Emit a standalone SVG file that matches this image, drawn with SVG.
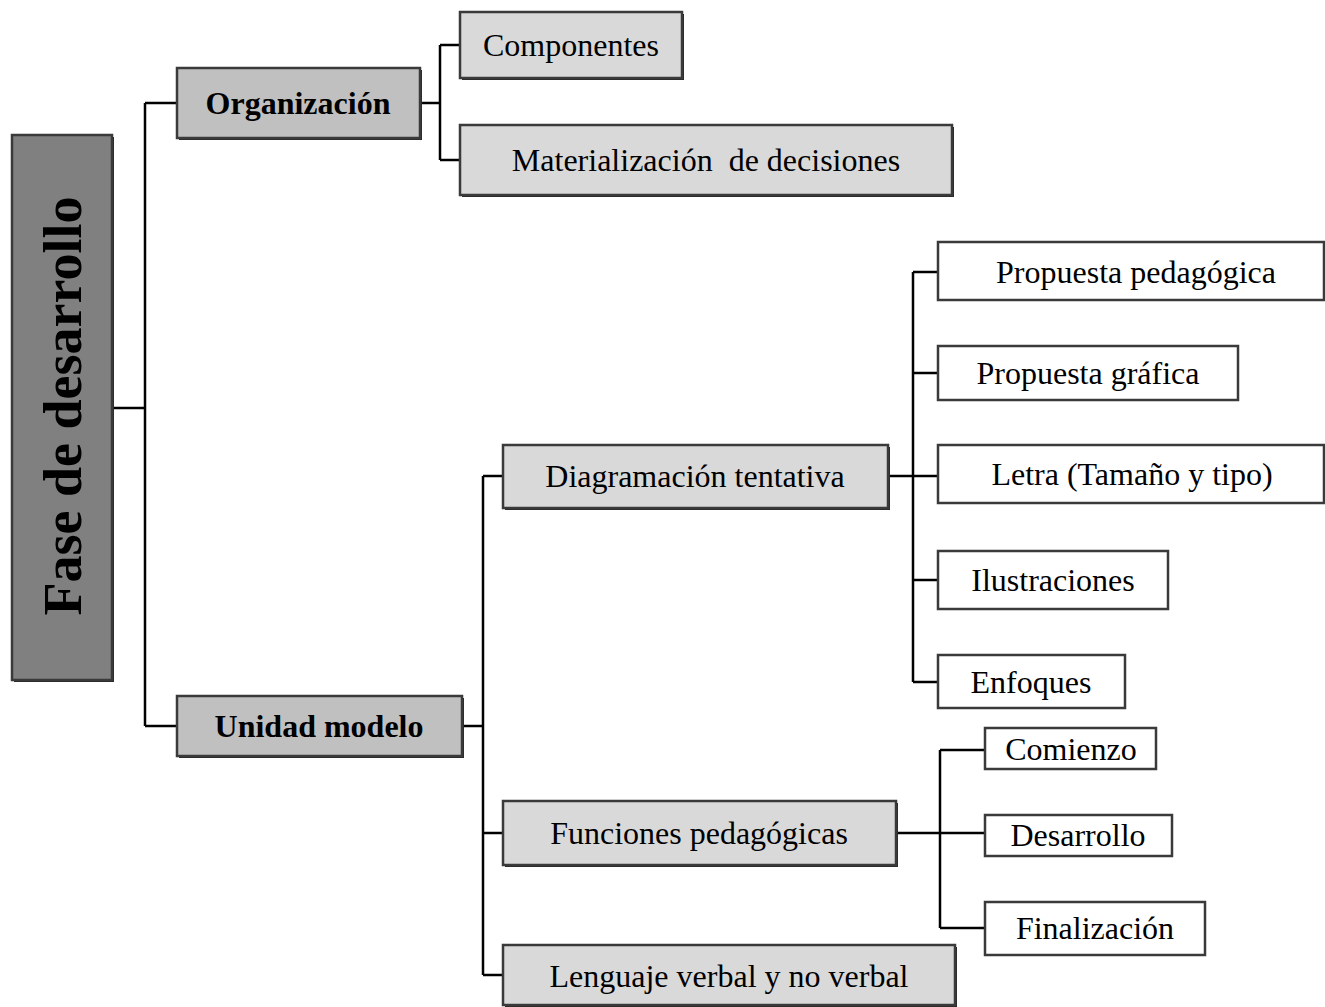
<svg xmlns="http://www.w3.org/2000/svg" width="1325" height="1007" viewBox="0 0 1325 1007">
<style>
.box{stroke:#3a3a3a;stroke-width:2.5}
.sh{fill:#2a2a2a}
.dark{fill:#808080}
.mid{fill:#c0c0c0}
.light{fill:#d9d9d9}
.white{fill:#ffffff}
text{font-family:"Liberation Serif","Times New Roman",serif;font-size:32px;fill:#000;text-anchor:middle}
.b{font-weight:bold}
.conn{fill:none;stroke:#000;stroke-width:2.5}
</style>
<rect width="1325" height="1007" fill="#fff"/>
<g id="connectors" class="conn">
<path d="M112 408H145M145 103V726M145 103H177M145 726H177"/>
<path d="M420 103H440M440 45V160M440 45H460M440 160H460"/>
<path d="M462 726H483M483 476V975M483 476H503M483 833H503M483 975H503"/>
<path d="M888 476H913M913 272V682M913 272H938M913 373H938M913 476H938M913 580H938M913 682H938"/>
<path d="M896 833H940M940 750V928M940 750H985M940 833H985M940 928H985"/>
</g>
<g id="fase">
<rect class="sh" x="14" y="137" width="100" height="545"/>
<rect class="box dark" x="12" y="135" width="100" height="545"/>
<text class="b" transform="translate(81 406) rotate(-90)" style="font-size:54px">Fase de desarrollo</text>
</g>
<g id="organizacion">
<rect class="sh" x="179" y="70" width="243" height="70"/>
<rect class="box mid" x="177" y="68" width="243" height="70"/>
<text class="b" x="298" y="114">Organización</text>
</g>
<g id="componentes">
<rect class="sh" x="462" y="14" width="222" height="66"/>
<rect class="box light" x="460" y="12" width="222" height="66"/>
<text x="571" y="56">Componentes</text>
</g>
<g id="materializacion">
<rect class="sh" x="462" y="127" width="492" height="70"/>
<rect class="box light" x="460" y="125" width="492" height="70"/>
<text x="706" y="171" xml:space="preserve">Materialización  de decisiones</text>
</g>
<g id="unidad">
<rect class="sh" x="179" y="698" width="285" height="60"/>
<rect class="box mid" x="177" y="696" width="285" height="60"/>
<text class="b" x="319" y="737">Unidad modelo</text>
</g>
<g id="diagramacion">
<rect class="sh" x="505" y="447" width="385" height="63"/>
<rect class="box light" x="503" y="445" width="385" height="63"/>
<text x="695" y="487">Diagramación tentativa</text>
</g>
<g id="propuesta-pedagogica">
<rect class="box white" x="938" y="242" width="386" height="58"/>
<text x="1136" y="283">Propuesta pedagógica</text>
</g>
<g id="propuesta-grafica">
<rect class="box white" x="938" y="346" width="300" height="54"/>
<text x="1088" y="384">Propuesta gráfica</text>
</g>
<g id="letra">
<rect class="box white" x="938" y="445" width="386" height="58"/>
<text x="1132" y="485">Letra (Tamaño y tipo)</text>
</g>
<g id="ilustraciones">
<rect class="box white" x="938" y="551" width="230" height="58"/>
<text x="1053" y="591">Ilustraciones</text>
</g>
<g id="enfoques">
<rect class="box white" x="938" y="655" width="187" height="53"/>
<text x="1031" y="693">Enfoques</text>
</g>
<g id="funciones">
<rect class="sh" x="505" y="803" width="393" height="64"/>
<rect class="box light" x="503" y="801" width="393" height="64"/>
<text x="699" y="844">Funciones pedagógicas</text>
</g>
<g id="comienzo">
<rect class="box white" x="985" y="728" width="171" height="41"/>
<text x="1071" y="760">Comienzo</text>
</g>
<g id="desarrollo">
<rect class="box white" x="985" y="815" width="187" height="41"/>
<text x="1078" y="846">Desarrollo</text>
</g>
<g id="finalizacion">
<rect class="box white" x="985" y="902" width="220" height="53"/>
<text x="1095" y="939">Finalización</text>
</g>
<g id="lenguaje">
<rect class="sh" x="505" y="947" width="452" height="60"/>
<rect class="box light" x="503" y="945" width="452" height="60"/>
<text x="729" y="987">Lenguaje verbal y no verbal</text>
</g>
</svg>
